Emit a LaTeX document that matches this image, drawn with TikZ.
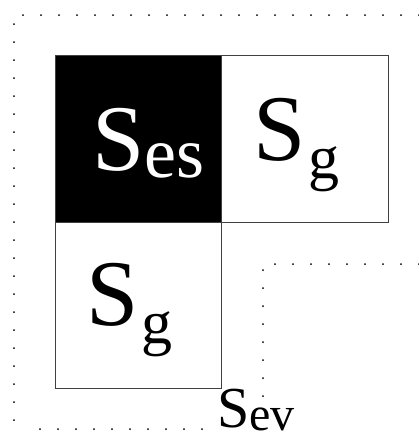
\documentclass[tikz,border=0pt]{standalone}
\usepackage{fontspec}
\setmainfont{Liberation Serif}
\usetikzlibrary{positioning}
\begin{document}
\begin{tikzpicture}[x=1pt,y=-1pt,
    cell/.style={draw=black!75, line width=1.4pt, minimum size=166.5pt, inner sep=0pt, outer sep=0pt},
    lbl/.style={anchor=base west, inner sep=0pt, outer sep=0pt},
    dotline/.style={line width=2pt, line cap=round, dash pattern=on 0pt off 18pt}]
  \useasboundingbox (0,0) rectangle (419,437);
  \node[cell, fill=black] (esbox) at (138.5,139) {};
  \node[cell, right=0pt of esbox] (gright) {};
  \node[cell, below=0pt of esbox] (gbelow) {};
  \node[lbl, text=white] (ses) at (92,170) {\fontsize{94}{94}\selectfont S\raisebox{-7pt}{\fontsize{72}{72}\selectfont es}};
  \node[lbl] (sgright) at (253,160) {\fontsize{94}{94}\selectfont S\kern3pt\raisebox{-18pt}{\fontsize{62}{62}\selectfont g}};
  \node[lbl] (sgbelow) at (86,325) {\fontsize{94}{94}\selectfont S\kern3pt\raisebox{-18pt}{\fontsize{62}{62}\selectfont g}};
  \node[lbl] (sev) at (217,427) {\fontsize{58}{58}\selectfont S\raisebox{-3pt}{\fontsize{48}{48}\selectfont ev}};
  % outer dotted corner
  \coordinate (otl) at (14,15);
  \coordinate (otr) at (419,15);
  \coordinate (obl) at (14,429);
  \draw[dotline] (otr) -- (otl) -- (obl);
  \draw[dotline] (40,429) -- (202,429);
  % inner dotted corner
  \coordinate (itl) at (263,264);
  \coordinate (itr) at (419,264);
  \coordinate (ibl) at (263,408);
  \draw[dotline] (itr) -- (itl) -- (ibl);
\end{tikzpicture}
\end{document}
